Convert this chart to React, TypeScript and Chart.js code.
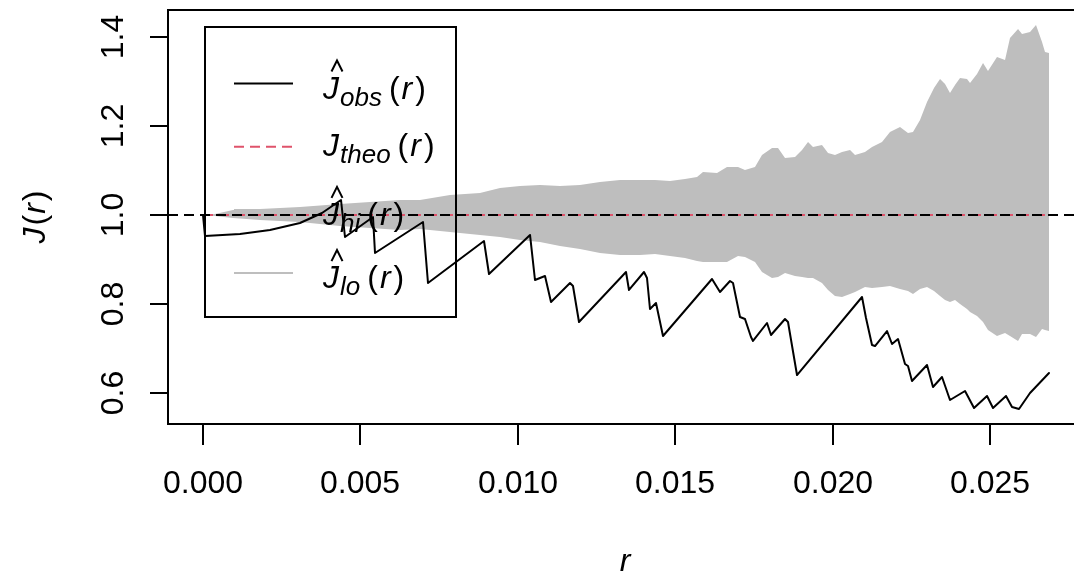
import React, { useEffect, useRef } from "react";
import { Chart, registerables } from "chart.js";

Chart.register(...registerables);

// ---- data ----
const rObs = [0, 0.0000635, 0.001175, 0.002128, 0.003081, 0.00378, 0.004384, 0.004511, 0.0054, 0.005464, 0.006989, 0.007147, 0.008926, 0.009085, 0.010388, 0.010546, 0.010864, 0.011055, 0.011658, 0.011753, 0.011944, 0.013437, 0.013532, 0.014009, 0.014104, 0.014199, 0.01439, 0.014612, 0.016169, 0.016423, 0.016741, 0.016836, 0.017058, 0.017217, 0.017408, 0.017471, 0.017916, 0.018043, 0.018488, 0.018583, 0.018869, 0.020934, 0.021061, 0.021252, 0.021347, 0.021728, 0.021887, 0.022078, 0.0223, 0.022395, 0.022522, 0.022999, 0.023189, 0.023475, 0.023729, 0.024206, 0.024492, 0.024905, 0.025095, 0.025508, 0.025699, 0.025921, 0.026271, 0.026874];
const jObs = [1.0, 0.9528, 0.9573, 0.9663, 0.982, 1.0045, 1.0337, 0.9506, 0.9955, 0.9146, 0.9843, 0.8472, 0.9416, 0.8674, 0.9551, 0.8539, 0.8629, 0.8045, 0.8472, 0.8404, 0.7596, 0.8719, 0.8315, 0.8719, 0.8584, 0.7888, 0.8022, 0.7281, 0.8562, 0.827, 0.8517, 0.8472, 0.7708, 0.7663, 0.7258, 0.7169, 0.7573, 0.7303, 0.7663, 0.7596, 0.6404, 0.8157, 0.7685, 0.7079, 0.7056, 0.7393, 0.7101, 0.7213, 0.6652, 0.6607, 0.627, 0.6629, 0.6135, 0.636, 0.5843, 0.6045, 0.5663, 0.5933, 0.5663, 0.5933, 0.5685, 0.564, 0.6, 0.6449];

const rEnv = [0, 0.000381, 0.000953, 0.001811, 0.003081, 0.004352, 0.005305, 0.006258, 0.006893, 0.007846, 0.008799, 0.009435, 0.01007, 0.010705, 0.011341, 0.011976, 0.012611, 0.013247, 0.013882, 0.014358, 0.014835, 0.015311, 0.015693, 0.015883, 0.016328, 0.016645, 0.016995, 0.017217, 0.017535, 0.017757, 0.018075, 0.018266, 0.018488, 0.018806, 0.019028, 0.019219, 0.019377, 0.019663, 0.019854, 0.020076, 0.020299, 0.020553, 0.020712, 0.021029, 0.021252, 0.021569, 0.021823, 0.022141, 0.022395, 0.022554, 0.022777, 0.022999, 0.023221, 0.023412, 0.023571, 0.023729, 0.023888, 0.024047, 0.024269, 0.024365, 0.024587, 0.024778, 0.024936, 0.025222, 0.025477, 0.025635, 0.02589, 0.026017, 0.026271, 0.026461, 0.026652, 0.026747, 0.026874];
const jHi = [1.0, 1.0022, 1.0112, 1.0135, 1.018, 1.0247, 1.0292, 1.0337, 1.0337, 1.0449, 1.0494, 1.0607, 1.0652, 1.0674, 1.0652, 1.0674, 1.0742, 1.0787, 1.0787, 1.0787, 1.0764, 1.0809, 1.0854, 1.0966, 1.0944, 1.1079, 1.1079, 1.1011, 1.1079, 1.1348, 1.1506, 1.1506, 1.1281, 1.1303, 1.1461, 1.164, 1.1528, 1.1573, 1.1393, 1.1348, 1.1416, 1.1461, 1.1348, 1.1416, 1.1528, 1.164, 1.1865, 1.1978, 1.1843, 1.1865, 1.2135, 1.2539, 1.2854, 1.3056, 1.2944, 1.2742, 1.2921, 1.3079, 1.3056, 1.2966, 1.3169, 1.3416, 1.3236, 1.3551, 1.3483, 1.3978, 1.418, 1.4067, 1.4112, 1.427, 1.3888, 1.3663, 1.364];
const jLo = [1.0, 0.9978, 0.9933, 0.9888, 0.9843, 0.9753, 0.9708, 0.9663, 0.9685, 0.9618, 0.9551, 0.9506, 0.9438, 0.9393, 0.9303, 0.9236, 0.9146, 0.9101, 0.9101, 0.9124, 0.9079, 0.9034, 0.8966, 0.8944, 0.8944, 0.8944, 0.9079, 0.9056, 0.8944, 0.8719, 0.8584, 0.8607, 0.8697, 0.8629, 0.8607, 0.8584, 0.8584, 0.8472, 0.8315, 0.818, 0.8157, 0.8225, 0.827, 0.8382, 0.836, 0.8382, 0.8404, 0.8337, 0.8292, 0.8225, 0.8337, 0.8382, 0.8292, 0.818, 0.809, 0.8045, 0.809, 0.8, 0.7888, 0.782, 0.773, 0.7596, 0.7416, 0.7281, 0.7348, 0.7281, 0.7169, 0.7326, 0.7326, 0.7258, 0.7438, 0.7416, 0.7393];

const rTheo = [0, 0.026874];
const jTheo = [1, 1];

const xLimits = [-0.0011118, 0.027668];
const yLimits = [0.53034, 1.46067];
const refLine = [1, 1];

const xTicks = [0, 0.005, 0.01, 0.015, 0.02, 0.025];
const xTickLabels = ["0.000", "0.005", "0.010", "0.015", "0.020", "0.025"];
const yTicks = [0.6, 0.8, 1.0, 1.2, 1.4];
const yTickLabels = ["0.6", "0.8", "1.0", "1.2", "1.4"];

const legendSubs = ["obs", "theo", "hi", "lo"];
const legendHats = [true, false, true, true];
const legendColors = ["#000000", "#DF536B", "#BEBEBE", "#BEBEBE"];
const legendDashed = [false, true, false, false];

const FONT = '"Liberation Sans", Arial, Helvetica, sans-serif';
const GRAY = "rgb(190,190,190)";
const RED = "#DF536B";

type Run = { text: string; font: string; dy?: number; gap?: number };

function runsWidth(ctx: CanvasRenderingContext2D, runs: Run[]) {
  let w = 0;
  runs.forEach((r) => {
    ctx.font = r.font;
    w += ctx.measureText(r.text).width + (r.gap || 0);
  });
  return w;
}

function drawRuns(ctx: CanvasRenderingContext2D, runs: Run[], x: number, y: number) {
  let cx = x;
  ctx.textAlign = "left";
  ctx.textBaseline = "alphabetic";
  runs.forEach((r) => {
    ctx.font = r.font;
    ctx.fillText(r.text, cx, y + (r.dy || 0));
    cx += ctx.measureText(r.text).width + (r.gap || 0);
  });
  return cx;
}

function drawHat(ctx: CanvasRenderingContext2D, cx: number, top: number) {
  ctx.save();
  ctx.lineWidth = 2;
  ctx.strokeStyle = "#000";
  ctx.setLineDash([]);
  ctx.lineJoin = "miter";
  ctx.beginPath();
  ctx.moveTo(cx - 5.5, top + 11);
  ctx.lineTo(cx, top);
  ctx.lineTo(cx + 5.5, top + 11);
  ctx.stroke();
  ctx.restore();
}

const MAIN = `32px ${FONT}`;
const MAIN_I = `italic 32px ${FONT}`;
const SUB_I = `italic 26px ${FONT}`;

const framePlugin = {
  id: "rframe",
  afterDraw(chart: any) {
    const ctx: CanvasRenderingContext2D = chart.ctx;
    const { left, top, right, bottom } = chart.chartArea;
    const xs = chart.scales.x;
    const ys = chart.scales.y;
    ctx.save();
    ctx.strokeStyle = "#000";
    ctx.fillStyle = "#000";
    ctx.lineWidth = 2;
    ctx.setLineDash([]);
    // plot box (right side lies beyond the window)
    ctx.beginPath();
    ctx.moveTo(right + 20, top);
    ctx.lineTo(left, top);
    ctx.lineTo(left, bottom);
    ctx.lineTo(right + 20, bottom);
    ctx.stroke();

    // x axis ticks & labels
    xTicks.forEach((v, i) => {
      const px = Math.round(xs.getPixelForValue(v));
      ctx.beginPath();
      ctx.moveTo(px, bottom);
      ctx.lineTo(px, bottom + 21);
      ctx.stroke();
      ctx.font = MAIN;
      ctx.textAlign = "center";
      ctx.textBaseline = "alphabetic";
      ctx.fillText(xTickLabels[i], px, bottom + 69);
    });

    // y axis ticks & labels
    yTicks.forEach((v, i) => {
      const py = Math.round(ys.getPixelForValue(v));
      ctx.beginPath();
      ctx.moveTo(left, py);
      ctx.lineTo(left - 18, py);
      ctx.stroke();
      ctx.save();
      ctx.translate(left - 45, py);
      ctx.rotate(-Math.PI / 2);
      ctx.font = MAIN;
      ctx.textAlign = "center";
      ctx.textBaseline = "alphabetic";
      ctx.fillText(yTickLabels[i], 0, 0);
      ctx.restore();
    });

    // x axis title: italic r
    ctx.font = MAIN_I;
    ctx.textAlign = "center";
    ctx.fillText("r", 625, bottom + 147);

    // y axis title: J(r)
    const yRuns: Run[] = [
      { text: "J", font: MAIN_I, gap: 2 },
      { text: "(", font: MAIN, gap: 1 },
      { text: "r", font: MAIN_I, gap: 2 },
      { text: ")", font: MAIN },
    ];
    ctx.save();
    ctx.translate(45, 217);
    ctx.rotate(-Math.PI / 2);
    const yw = runsWidth(ctx, yRuns);
    drawRuns(ctx, yRuns, -yw / 2, 0);
    ctx.restore();

    // legend (transparent background)
    const bx = 205, by = 27, bw = 251, bh = 290;
    ctx.lineWidth = 2;
    ctx.strokeStyle = "#000";
    ctx.strokeRect(bx, by, bw, bh);
    legendSubs.forEach((sub, i) => {
      const ly = 83.5 + i * 63.2;
      ctx.save();
      ctx.strokeStyle = legendColors[i];
      ctx.lineWidth = 2;
      ctx.setLineDash(legendDashed[i] ? [10, 6] : []);
      ctx.beginPath();
      ctx.moveTo(234, ly);
      ctx.lineTo(293, ly);
      ctx.stroke();
      ctx.restore();
      const base = ly + (legendHats[i] ? 15 : 9);
      const jx = 323;
      const runs: Run[] = [
        { text: "J", font: MAIN_I, gap: 1 },
        { text: sub, font: SUB_I, dy: 7, gap: 7 },
        { text: "(", font: MAIN, gap: 2 },
        { text: "r", font: MAIN_I, gap: 3 },
        { text: ")", font: MAIN },
      ];
      ctx.fillStyle = "#000";
      drawRuns(ctx, runs, jx, base);
      if (legendHats[i]) drawHat(ctx, jx + 14, base - 38);
    });
    ctx.restore();
  },
};

export default function App() {
  const canvasRef = useRef<HTMLCanvasElement | null>(null);

  useEffect(() => {
    const canvas = canvasRef.current;
    if (!canvas) return;
    const n = Math.min(rEnv.length, jHi.length, jLo.length);
    const hiData = [];
    const loData = [];
    for (let i = 0; i < n; i++) {
      hiData.push({ x: rEnv[i], y: jHi[i] });
      loData.push({ x: rEnv[i], y: jLo[i] });
    }
    const m = Math.min(rObs.length, jObs.length);
    const obsData = [];
    for (let i = 0; i < m; i++) obsData.push({ x: rObs[i], y: jObs[i] });
    const theoData = rTheo.map((r, i) => ({ x: r, y: jTheo[i] }));
    const refData = xLimits.map((r, i) => ({ x: r, y: refLine[i] }));

    const chart = new Chart(canvas, {
      type: "line",
      data: {
        datasets: [
          {
            label: "ref",
            data: refData,
            borderColor: "#000",
            borderWidth: 2,
            borderDash: [10, 6],
            pointRadius: 0,
            fill: false,
            order: 0,
          },
          {
            label: "theo",
            data: theoData,
            borderColor: RED,
            borderWidth: 2,
            borderDash: [10, 6],
            pointRadius: 0,
            fill: false,
            order: 1,
          },
          {
            label: "obs",
            data: obsData,
            borderColor: "#000",
            borderWidth: 2,
            borderJoinStyle: "round",
            borderCapStyle: "round",
            pointRadius: 0,
            fill: false,
            order: 2,
          },
          {
            label: "hi",
            data: hiData,
            borderColor: "rgba(0,0,0,0)",
            borderWidth: 1,
            backgroundColor: GRAY,
            pointRadius: 0,
            fill: 4,
            order: 3,
          },
          {
            label: "lo",
            data: loData,
            borderColor: "rgba(0,0,0,0)",
            borderWidth: 1,
            pointRadius: 0,
            fill: false,
            order: 4,
          },
        ],
      } as any,
      options: {
        animation: false,
        responsive: false,
        maintainAspectRatio: false,
        events: [],
        layout: { padding: { left: 168, top: 10, right: 0, bottom: 148 } },
        elements: { line: { tension: 0 }, point: { radius: 0 } },
        scales: {
          x: { type: "linear", min: xLimits[0], max: xLimits[1], display: false },
          y: { type: "linear", min: yLimits[0], max: yLimits[1], display: false },
        },
        plugins: {
          legend: { display: false },
          tooltip: { enabled: false },
          filler: { propagate: false },
        },
      } as any,
      plugins: [framePlugin],
    });
    return () => chart.destroy();
  }, []);

  return (
    <div style={{ position: "fixed", left: 0, top: 0, width: 1074, height: 572, background: "#fff", overflow: "hidden" }}>
      <canvas ref={canvasRef} width={1074} height={572} style={{ display: "block" }} />
    </div>
  );
}
